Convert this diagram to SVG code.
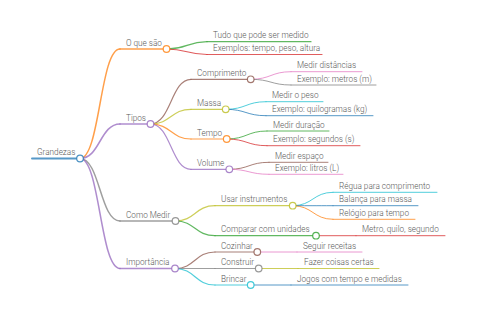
<svg xmlns="http://www.w3.org/2000/svg" width="480" height="320" viewBox="0 0 480 320">
<style>
text{font-family:Roboto,"Liberation Sans",sans-serif;font-size:8.2px;font-weight:300;fill:#5a5a5a}
.ln{fill:none;stroke-linecap:round;stroke-opacity:0.75}
.d0{stroke-width:2}
.d1{stroke-width:1.5}
.d2{stroke-width:1.2}
.d3{stroke-width:1}
circle{fill:#fff;stroke-width:1.2;stroke-opacity:0.8}
.c0{stroke:#1f77b4}.c1{stroke:#ff7f0e}.c2{stroke:#2ca02c}.c3{stroke:#d62728}.c4{stroke:#9467bd}
.c5{stroke:#8c564b}.c6{stroke:#e377c2}.c7{stroke:#7f7f7f}.c8{stroke:#bcbd22}.c9{stroke:#17becf}
</style>
<rect width="480" height="320" fill="#fff"/>
<g id="connectors" class="ln">
<path class="c1 d1" d="M80 158.5C100 158.5 100 49 120 49"/>
<path class="c4 d1" d="M80 158.5C100 158.5 100 124 120 124"/>
<path class="c7 d1" d="M80 158.5C100 158.5 100 221 120 221"/>
<path class="c4 d1" d="M80 158.5C100 158.5 100 268.5 120 268.5"/>
<path class="c2 d2" d="M166.5 49C187 49 187 41.7 207 41.7"/>
<path class="c3 d2" d="M166.5 49C187 49 187 54.5 207 54.5"/>
<path class="c5 d2" d="M150.5 124C171 124 171 79.3 191 79.3"/>
<path class="c8 d2" d="M150.5 124C171 124 171 109.3 191 109.3"/>
<path class="c1 d2" d="M150.5 124C171 124 171 139 191 139"/>
<path class="c4 d2" d="M150.5 124C171 124 171 169.3 191 169.3"/>
<path class="c6 d3" d="M250.7 79.3C271 79.3 271 71.7 291 71.7"/>
<path class="c7 d3" d="M250.7 79.3C271 79.3 271 85 291 85"/>
<path class="c9 d3" d="M225.7 109.3C246 109.3 246 101.7 266 101.7"/>
<path class="c0 d3" d="M225.7 109.3C246 109.3 246 115.7 266 115.7"/>
<path class="c2 d3" d="M226.7 139C247 139 247 131 267 131"/>
<path class="c3 d3" d="M226.7 139C247 139 247 145.7 267 145.7"/>
<path class="c5 d3" d="M229.3 169.3C249 169.3 249 162.3 269 162.3"/>
<path class="c6 d3" d="M229.3 169.3C249 169.3 249 174.3 269 174.3"/>
<path class="c8 d2" d="M175.5 221C195 221 195 205.7 215 205.7"/>
<path class="c2 d2" d="M175.5 221C195 221 195 235.7 215 235.7"/>
<path class="c5 d2" d="M175 268.5C195 268.5 195 252 215 252"/>
<path class="c7 d2" d="M175 268.5C195 268.5 195 268.5 215 268.5"/>
<path class="c9 d2" d="M175 268.5C195 268.5 195 285 215 285"/>
<path class="c9 d3" d="M292.7 205.7C313 205.7 313 192.3 333 192.3"/>
<path class="c0 d3" d="M292.7 205.7C313 205.7 313 205.7 333 205.7"/>
<path class="c1 d3" d="M292.7 205.7C313 205.7 313 219.3 333 219.3"/>
<path class="c3 d3" d="M316 235.7L356 235.7"/>
<path class="c6 d3" d="M257.3 252L297 252"/>
<path class="c8 d3" d="M258.7 268.5L298 268.5"/>
<path class="c0 d3" d="M250.7 285L291 285"/>
</g>
<g id="n-grandezas"><path class="ln c0 d0" d="M32 158.5H80"/><circle class="c0" cx="80" cy="158.5" r="3.3"/><text x="37" y="155">Grandezas</text></g>
<g id="n-oque"><path class="ln c1 d1" d="M120 49H166.5"/><circle class="c1" cx="166.5" cy="49" r="3.3"/><text x="126" y="45.5">O que são</text></g>
<g id="n-tudo"><path class="ln c2 d2" d="M207 41.7H311"/><text x="213" y="38.2">Tudo que pode ser medido</text></g>
<g id="n-exemplos"><path class="ln c3 d2" d="M207 54.5H322"/><text x="213" y="51">Exemplos: tempo, peso, altura</text></g>
<g id="n-tipos"><path class="ln c4 d1" d="M120 124H150.5"/><circle class="c4" cx="150.5" cy="124" r="3.3"/><text x="126" y="120.5">Tipos</text></g>
<g id="n-comprimento"><path class="ln c5 d2" d="M191 79.3H250.7"/><circle class="c5" cx="250.7" cy="79.3" r="3.3"/><text x="197" y="75.8">Comprimento</text></g>
<g id="n-medirdist"><path class="ln c6 d3" d="M291 71.7H362"/><text x="297" y="68.2">Medir distâncias</text></g>
<g id="n-exmetros"><path class="ln c7 d3" d="M291 85H376"/><text x="297" y="81.5">Exemplo: metros (m)</text></g>
<g id="n-massa"><path class="ln c8 d2" d="M191 109.3H225.7"/><circle class="c8" cx="225.7" cy="109.3" r="3.3"/><text x="197" y="105.8">Massa</text></g>
<g id="n-medirpeso"><path class="ln c9 d3" d="M266 101.7H323"/><text x="272" y="98.2">Medir o peso</text></g>
<g id="n-exkg"><path class="ln c0 d3" d="M266 115.7H373"/><text x="272" y="112.2">Exemplo: quilogramas (kg)</text></g>
<g id="n-tempo"><path class="ln c1 d2" d="M191 139H226.7"/><circle class="c1" cx="226.7" cy="139" r="3.3"/><text x="197" y="135.5">Tempo</text></g>
<g id="n-medirdur"><path class="ln c2 d3" d="M267 131H329"/><text x="273" y="127.5">Medir duração</text></g>
<g id="n-exseg"><path class="ln c3 d3" d="M267 145.7H360"/><text x="273" y="142.2">Exemplo: segundos (s)</text></g>
<g id="n-volume"><path class="ln c4 d2" d="M191 169.3H229.3"/><circle class="c4" cx="229.3" cy="169.3" r="3.3"/><text x="197" y="165.8">Volume</text></g>
<g id="n-medesp"><path class="ln c5 d3" d="M269 162.3H328"/><text x="275" y="158.8">Medir espaço</text></g>
<g id="n-exlitros"><path class="ln c6 d3" d="M269 174.3H343"/><text x="275" y="170.8">Exemplo: litros (L)</text></g>
<g id="n-comomedir"><path class="ln c7 d1" d="M120 221H175.5"/><circle class="c7" cx="175.5" cy="221" r="3.3"/><text x="126" y="217.5">Como Medir</text></g>
<g id="n-usar"><path class="ln c8 d2" d="M215 205.7H292.7"/><circle class="c8" cx="292.7" cy="205.7" r="3.3"/><text x="221" y="202.2">Usar instrumentos</text></g>
<g id="n-regua"><path class="ln c9 d3" d="M333 192.3H437"/><text x="339" y="188.8">Régua para comprimento</text></g>
<g id="n-balanca"><path class="ln c0 d3" d="M333 205.7H418"/><text x="339" y="202.2">Balança para massa</text></g>
<g id="n-relogio"><path class="ln c1 d3" d="M333 219.3H415"/><text x="339" y="215.8">Relógio para tempo</text></g>
<g id="n-comparar"><path class="ln c2 d2" d="M215 235.7H316"/><circle class="c2" cx="316" cy="235.7" r="3.3"/><text x="221" y="232.2">Comparar com unidades</text></g>
<g id="n-metro"><path class="ln c3 d3" d="M356 235.7H445"/><text x="362" y="232.2">Metro, quilo, segundo</text></g>
<g id="n-importancia"><path class="ln c4 d1" d="M120 268.5H175"/><circle class="c4" cx="175" cy="268.5" r="3.3"/><text x="126" y="265">Importância</text></g>
<g id="n-cozinhar"><path class="ln c5 d2" d="M215 252H257.3"/><circle class="c5" cx="257.3" cy="252" r="3.3"/><text x="221" y="248.5">Cozinhar</text></g>
<g id="n-seguir"><path class="ln c6 d3" d="M297 252H362"/><text x="303" y="248.5">Seguir receitas</text></g>
<g id="n-construir"><path class="ln c7 d2" d="M215 268.5H258.7"/><circle class="c7" cx="258.7" cy="268.5" r="3.3"/><text x="221" y="265">Construir</text></g>
<g id="n-fazer"><path class="ln c8 d3" d="M298 268.5H379"/><text x="304" y="265">Fazer coisas certas</text></g>
<g id="n-brincar"><path class="ln c9 d2" d="M215 285H250.7"/><circle class="c9" cx="250.7" cy="285" r="3.3"/><text x="221" y="281.5">Brincar</text></g>
<g id="n-jogos"><path class="ln c0 d3" d="M291 285H408"/><text x="297" y="281.5">Jogos com tempo e medidas</text></g>
</svg>
